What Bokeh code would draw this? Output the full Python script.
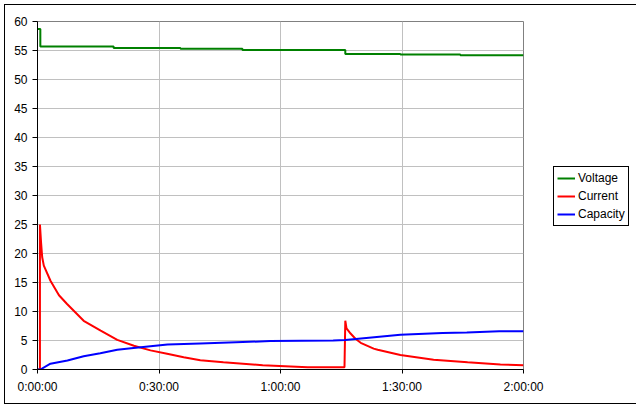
from bokeh.plotting import figure
from bokeh.models import Legend, LegendItem, FixedTicker, Range1d
from bokeh.embed import file_html
from bokeh.resources import INLINE

# time in minutes since start
volt_t = [0, 0.7, 18.8, 35.3, 50.6, 76.0, 89.6, 104.4, 120]
volt_v = [58.7, 55.7, 55.45, 55.3, 55.1, 54.4, 54.3, 54.2, 54.2]

cur_t = [0, 0.6, 0.6, 0.9, 1.15, 1.56, 3.2, 5.3, 7.3, 11.4, 15.6, 19.7, 23.8,
         27.9, 32.0, 36.1, 40.2, 45.9, 55.6, 66.7, 75.8, 76.0, 76.3, 77.3,
         78.5, 79.8, 83.0, 84.0, 89.6, 97.8, 106.2, 114.3, 120]
cur_a = [0, 0, 25, 21.7, 19.4, 17.9, 15.3, 12.8, 11.3, 8.4, 6.7, 5.1, 4.1,
         3.3, 2.7, 2.1, 1.6, 1.26, 0.75, 0.4, 0.4, 8.4, 7.1, 6.2,
         5.3, 4.6, 3.6, 3.4, 2.5, 1.7, 1.26, 0.88, 0.75]

cap_t = [0, 0.7, 3.2, 7.4, 11.4, 15.5, 19.7, 23.7, 27.9, 32.1, 40.2, 49.0,
         57.5, 73.0, 76.0, 89.6, 100.0, 106.0, 114.0, 120]
cap_v = [0, 0, 1.0, 1.55, 2.3, 2.8, 3.4, 3.7, 4.0, 4.3, 4.5, 4.7,
         4.9, 5.0, 5.1, 6.0, 6.3, 6.4, 6.6, 6.6]

x_ticks = [0, 30, 60, 90, 120]
x_labels = ["0:00:00", "0:30:00", "1:00:00", "1:30:00", "2:00:00"]
y_ticks = list(range(0, 65, 5))

FONT = "Liberation Sans"

p = figure(frame_width=486, frame_height=348, output_backend="svg",
           toolbar_location=None, x_range=Range1d(0, 120), y_range=Range1d(0, 60),
           min_border_left=32, min_border_top=16, min_border_right=108,
           min_border_bottom=34)
p.styles = {"margin-left": "4px", "margin-top": "4px",
            "border": "1px solid black"}
p.background_fill_color = "white"
p.border_fill_color = "white"
p.outline_line_color = "#808080"
p.outline_line_width = 1

for ax in (p.xaxis[0], p.yaxis[0]):
    ax.axis_line_color = "black"
    ax.major_tick_line_color = "black"
    ax.minor_tick_line_color = None
    ax.major_tick_in = 0
    ax.major_label_text_font = FONT
    ax.major_label_text_font_size = "12px"
    ax.major_label_text_color = "black"

p.xaxis.ticker = FixedTicker(ticks=x_ticks)
p.xaxis.major_label_overrides = {t: l for t, l in zip(x_ticks, x_labels)}
p.xaxis.major_tick_out = 4
p.xaxis.major_label_standoff = 6
p.yaxis.ticker = FixedTicker(ticks=y_ticks)
p.yaxis.major_tick_out = 5
p.yaxis.major_label_standoff = 5

p.xgrid.grid_line_color = "#c0c0c0"
p.ygrid.grid_line_color = "#c0c0c0"
p.xgrid.grid_line_width = 1
p.ygrid.grid_line_width = 1

rv = p.step(volt_t, volt_v, mode="after", line_color="#008000", line_width=2)
rc = p.line(cur_t, cur_a, line_color="#ff0000", line_width=2)
rq = p.line(cap_t, cap_v, line_color="#0000ff", line_width=2)

legend = Legend(items=[LegendItem(label="Voltage", renderers=[rv]),
                       LegendItem(label="Current", renderers=[rc]),
                       LegendItem(label="Capacity", renderers=[rq])],
                location=(30, 143))
legend.border_line_color = "black"
legend.border_line_alpha = 1.0
legend.border_line_width = 1
legend.background_fill_color = "white"
legend.background_fill_alpha = 1.0
legend.label_text_font = FONT
legend.label_text_font_size = "12px"
legend.label_text_color = "black"
legend.glyph_width = 18
legend.glyph_height = 16
legend.label_height = 16
legend.label_standoff = 3
legend.spacing = 2
legend.padding = 3
legend.margin = 0
p.add_layout(legend, "right")

open("out.html", "w").write(file_html(p, INLINE))
